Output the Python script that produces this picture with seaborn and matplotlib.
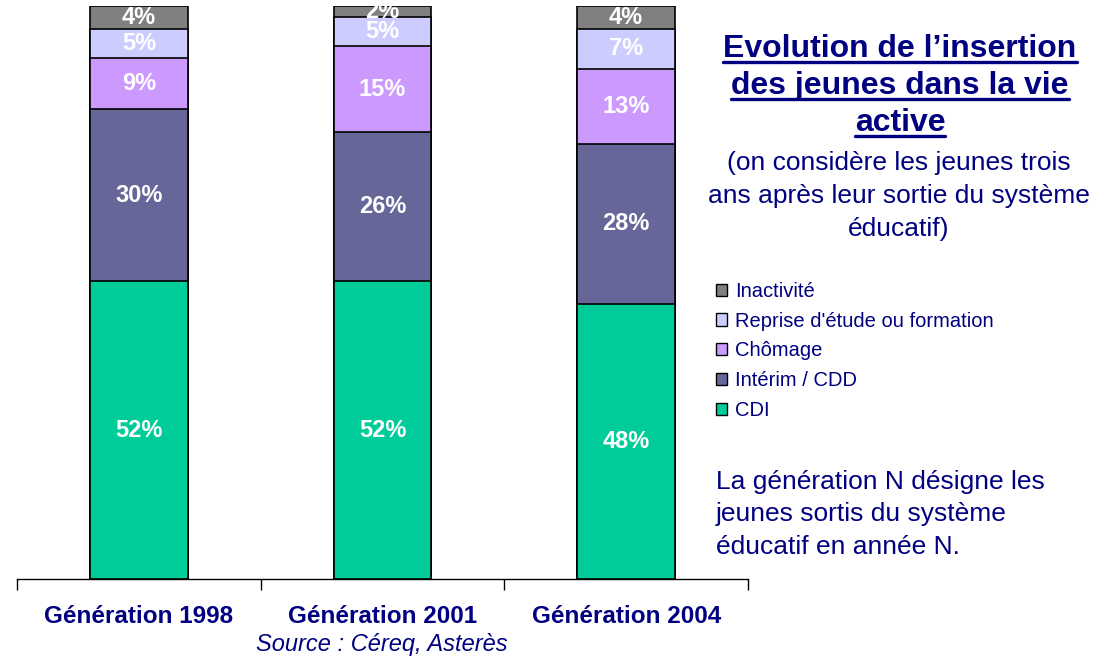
import matplotlib
matplotlib.use("Agg")
import matplotlib.pyplot as plt
from matplotlib.patches import Patch
from matplotlib.lines import Line2D
import numpy as np
import pandas as pd
import seaborn as sns

# %% data
generations = ["Génération 1998", "Génération 2001", "Génération 2004"]
statuts = ["CDI", "Intérim / CDD", "Chômage", "Reprise d'étude ou formation", "Inactivité"]
cdi = [52, 52, 48]
interim = [30, 26, 28]
chomage = [9, 15, 13]
reprise = [5, 5, 7]
inactivite = [4, 2, 4]
couleurs = ["#00CC99", "#666699", "#CC99FF", "#CCCCFF", "#808080"]

navy = "#000080"
W, H = 1104, 657

sns.set_style("white")
plt.rcParams["font.family"] = ["Liberation Sans", "DejaVu Sans"]

# %% plot
fig = plt.figure(figsize=(W / 100, H / 100), dpi=100)
ax = fig.add_axes([17 / W, 1 - 579 / H, (748 - 17) / W, (579 - 6) / H])

series = [cdi, interim, chomage, reprise, inactivite]
cum = np.cumsum(np.array(series), axis=0)

# overlay cumulative bars, tallest first
for i in reversed(range(len(series))):
    df = pd.DataFrame({"gen": generations, "val": cum[i]})
    sns.barplot(data=df, x="gen", y="val", color=couleurs[i], saturation=1,
                width=0.4, edgecolor="black", linewidth=1.2, ax=ax)

for i, vals in enumerate(series):
    for j, v in enumerate(vals):
        ax.text(j, cum[i][j] - v / 2, f"{v}%", ha="center", va="center",
                color="white", fontsize=17, fontweight="bold")

ax.set_xlim(-0.5, 2.5)
ax.set_ylim(0, 100)
ax.set_xlabel("")
ax.set_ylabel("")
ax.set_yticks([])
for s in ["left", "right", "top"]:
    ax.spines[s].set_visible(False)
ax.spines["bottom"].set_color("black")
ax.spines["bottom"].set_linewidth(1)
ax.set_xticks([-0.5, 0.5, 1.5, 2.5], minor=True)
ax.tick_params(axis="x", which="minor", bottom=True, length=8, width=1,
               color="black", direction="out")
ax.tick_params(axis="x", which="major", length=0, pad=19)
for lab in ax.get_xticklabels():
    lab.set_fontsize(17.5)
    lab.set_fontweight("bold")
    lab.set_color(navy)

fig.text(382 / W, 1 - 645 / H, "Source : Céreq, Asterès", ha="center", va="center",
         fontsize=17, style="italic", color=navy)

# %% title block on the right
renderer = fig.canvas.get_renderer()
titre = ["Evolution de l\u2019insertion", "des jeunes dans la vie", "active"]
for line, yb in zip(titre, [57, 94, 131]):
    t = fig.text(900 / W, 1 - yb / H, line, ha="center", va="baseline",
                 fontsize=23, fontweight="bold", color=navy)
    bb = t.get_window_extent(renderer)
    yu = 1 - (yb + 5) / H
    fig.add_artist(Line2D([bb.x0 / W, bb.x1 / W], [yu, yu], color=navy, lw=2.4,
                          transform=fig.transFigure))

sous_titre = ["(on considère les jeunes trois", "ans après leur sortie du système", "éducatif)"]
for line, yb in zip(sous_titre, [170, 203, 236]):
    fig.text(899 / W, 1 - yb / H, line, ha="center", va="baseline",
             fontsize=19, color=navy)

handles = [Patch(facecolor=couleurs[i], edgecolor="black", linewidth=1) for i in reversed(range(5))]
leg = fig.legend(handles, list(reversed(statuts)), loc="upper left",
                 bbox_to_anchor=(716 / W, 1 - 282 / H), frameon=False,
                 fontsize=14.5, labelcolor=navy, handlelength=0.55, handleheight=0.55,
                 handletextpad=0.4, labelspacing=0.53, borderaxespad=0, borderpad=0)

note = ["La génération N désigne les", "jeunes sortis du système", "éducatif en année N."]
for line, yb in zip(note, [489, 521, 554]):
    fig.text(716 / W, 1 - yb / H, line, ha="left", va="baseline", fontsize=19, color=navy)

fig.savefig("out.png", dpi=100)
